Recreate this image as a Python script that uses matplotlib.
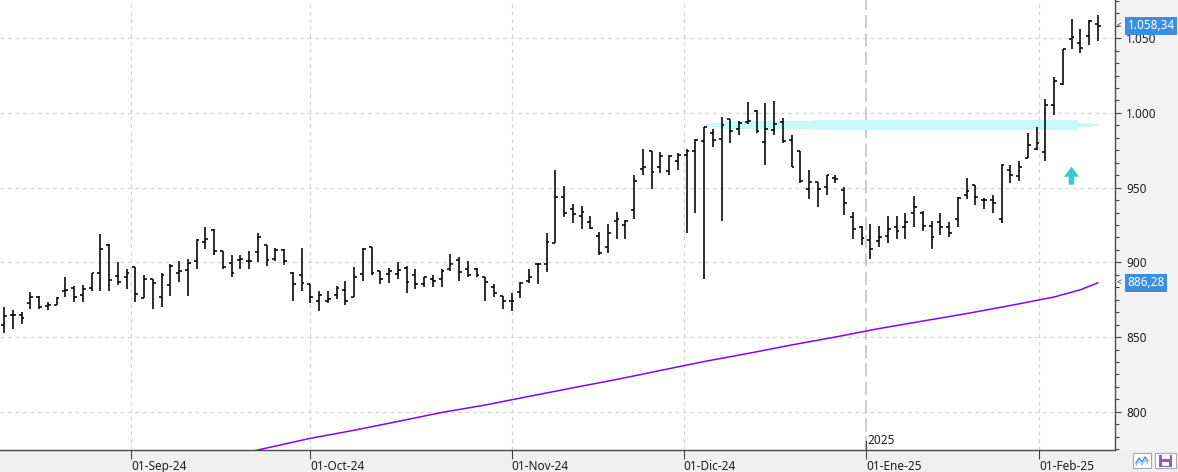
import numpy as np
import pandas as pd
import matplotlib
matplotlib.use("Agg")
import matplotlib.pyplot as plt
import matplotlib.transforms as mtrans
from matplotlib.ticker import FixedLocator, MultipleLocator, FuncFormatter
from matplotlib.patches import Rectangle, Polygon
from matplotlib.lines import Line2D

plt.rcParams['font.family'] = ['Noto Sans', 'DejaVu Sans']

# ---------------- data ----------------
holidays = ["2024-09-02", "2024-11-28", "2024-12-25", "2025-01-01", "2025-01-09", "2025-01-20"]
dates = pd.bdate_range("2024-08-12", "2025-02-11")
dates = dates[~dates.isin(pd.to_datetime(holidays))]

opens = [858.1, 864.5, 864.5, 872.6, 877.0, 870.8, 871.5, 881.0, 882.9, 878.4,
         882.6, 892.7, 911.8, 890.9, 890.0, 896.7, 875.9, 888.6, 876.6, 884.6,
         893.1, 894.9, 901.1, 913.6, 921.7, 907.4, 899.3, 901.6, 901.1, 906.9,
         911.4, 902.5, 908.3, 892.7, 891.5, 885.5, 874.4, 874.4, 877.9, 881.5,
         877.0, 892.2, 910.5, 894.0, 892.2, 892.2, 896.2, 891.8, 885.5, 888.6,
         888.6, 895.8, 901.6, 895.3, 895.8, 890.0, 883.3, 877.5, 873.9, 880.2,
         887.7, 898.9, 898.9, 913.2, 943.5, 935.5, 931.0, 927.0, 917.7, 910.1,
         927.9, 924.8, 935.0, 962.3, 974.3, 963.6, 960.9, 967.6, 971.6, 974.3,
         981.0, 986.4, 982.3, 996.2, 989.0, 993.9, 1001.5, 980.6, 988.6, 993.9,
         981.9, 974.3, 948.9, 953.8, 950.2, 956.5, 948.4, 930.6, 923.9, 915.0,
         914.1, 917.6, 923.9, 923.4, 932.8, 933.3, 924.3, 927.0, 923.4, 929.2,
         944.9, 951.5, 941.7, 941.7, 929.2, 961.8, 957.8, 969.9, 975.6, 973.9,
         1005.1, 1019.4, 1049.3, 1046.6, 1051.5, 1059.5]
highs = [869.9, 868.1, 866.8, 880.2, 877.5, 873.5, 876.6, 890.4, 884.2, 884.6,
         893.1, 919.0, 912.3, 900.2, 895.8, 896.7, 891.3, 889.1, 892.7, 898.9,
         900.7, 902.0, 915.4, 923.9, 922.1, 907.4, 905.1, 905.1, 907.4, 919.4,
         911.4, 909.6, 908.7, 893.5, 909.6, 885.5, 881.0, 880.6, 884.2, 887.7,
         896.7, 909.6, 910.5, 894.0, 896.0, 900.2, 897.6, 895.3, 890.4, 891.8,
         895.3, 905.6, 903.4, 901.1, 896.2, 890.4, 885.5, 877.5, 879.7, 886.9,
         895.3, 899.3, 919.4, 961.8, 951.1, 939.1, 937.7, 931.0, 920.3, 925.7,
         933.7, 928.3, 958.7, 975.7, 974.3, 973.9, 972.1, 973.0, 975.7, 982.3,
         990.8, 989.5, 997.1, 996.2, 994.4, 1007.3, 1002.0, 1006.4, 1007.8, 996.6,
         985.0, 974.3, 961.8, 953.8, 958.7, 958.2, 950.2, 933.7, 924.3, 925.7,
         924.3, 931.0, 931.0, 933.3, 944.4, 934.6, 927.9, 932.8, 927.0, 943.5,
         956.5, 952.0, 943.1, 945.3, 965.8, 964.9, 967.6, 986.8, 990.8, 1009.6,
         1023.8, 1042.6, 1063.1, 1056.4, 1062.2, 1065.8]
lows = [852.5, 855.6, 858.5, 868.6, 868.6, 868.1, 871.2, 877.0, 873.5, 873.5,
        881.0, 881.0, 881.0, 884.6, 882.4, 873.7, 875.9, 868.6, 870.3, 877.5,
        887.1, 877.5, 895.8, 908.7, 904.7, 895.3, 890.4, 895.3, 895.3, 900.2,
        897.5, 900.7, 898.0, 873.9, 881.1, 872.6, 867.2, 872.6, 875.2, 871.7,
        877.0, 887.7, 891.3, 885.5, 886.0, 889.1, 879.3, 882.4, 883.3, 883.3,
        883.7, 894.4, 887.7, 890.0, 890.0, 873.9, 877.0, 868.6, 867.2, 876.1,
        886.4, 885.5, 893.6, 913.2, 930.6, 926.6, 922.6, 922.1, 905.2, 906.5,
        915.9, 915.9, 929.2, 958.2, 949.3, 960.0, 958.2, 961.8, 919.9, 933.3,
        889.1, 977.4, 927.9, 980.1, 985.5, 992.6, 986.8, 965.4, 985.5, 980.1,
        963.6, 952.9, 942.6, 936.8, 944.9, 953.3, 931.5, 915.4, 911.8, 902.0,
        910.5, 912.7, 915.9, 915.9, 923.4, 920.8, 909.2, 918.1, 917.2, 923.9,
        942.6, 938.6, 935.9, 933.3, 926.6, 953.3, 954.7, 969.9, 975.2, 968.1,
        998.9, 1018.9, 1043.0, 1040.4, 1045.3, 1048.4]
closes = [864.1, 864.5, 862.5, 876.6, 870.3, 871.7, 876.1, 881.5, 877.0, 881.9,
          892.9, 908.7, 888.2, 886.9, 892.7, 878.8, 889.1, 886.4, 891.5, 897.6,
          894.4, 899.8, 915.0, 915.6, 907.8, 896.7, 892.7, 902.5, 901.1, 917.2,
          901.6, 908.3, 901.1, 885.5, 886.0, 877.0, 877.9, 875.2, 882.8, 873.9,
          890.4, 908.7, 893.1, 889.1, 894.5, 894.9, 886.9, 885.5, 890.0, 887.7,
          894.0, 898.9, 893.6, 891.8, 891.3, 886.9, 879.3, 873.9, 874.4, 886.4,
          890.4, 898.9, 913.6, 943.5, 932.8, 932.4, 933.7, 923.0, 906.5, 919.4,
          929.2, 927.5, 954.7, 963.6, 960.5, 971.2, 971.2, 971.6, 974.8, 981.9,
          990.4, 981.9, 992.2, 987.7, 993.0, 994.4, 987.7, 989.0, 992.6, 981.4,
          964.0, 954.2, 953.8, 949.3, 958.2, 955.6, 939.5, 922.5, 916.3, 909.2,
          916.8, 922.1, 921.2, 927.0, 936.8, 924.3, 917.2, 923.4, 919.4, 943.1,
          947.5, 944.0, 941.7, 940.0, 965.4, 958.2, 964.0, 978.3, 979.7, 1005.1,
          1021.2, 1042.6, 1050.6, 1043.5, 1061.3, 1058.34]

ma_dates = ["2024-09-20", "2024-10-01", "2024-10-08", "2024-10-15", "2024-10-22",
            "2024-10-29", "2024-11-05", "2024-11-12", "2024-11-19", "2024-11-26",
            "2024-12-04", "2024-12-11", "2024-12-18", "2024-12-26", "2025-01-03",
            "2025-01-13", "2025-01-21", "2025-01-28", "2025-02-04", "2025-02-07",
            "2025-02-11"]
ma_values = [773.1, 782.2, 787.6, 793.5, 799.5, 804.5, 810.3, 816.0, 821.6, 827.6,
             833.6, 839.0, 844.7, 850.0, 855.7, 860.7, 865.7, 871.1, 876.8, 881.6,
             886.28]

month_starts = ["2024-09-01", "2024-10-01", "2024-11-01", "2024-12-01", "2025-01-01", "2025-02-01"]
month_labels = ["01-Sep-24", "01-Oct-24", "01-Nov-24", "01-Dic-24", "01-Ene-25", "01-Feb-25"]
year_start = "2025-01-01"
year_label = "2025"

zone_level = 992.0
zone_start, zone_end = "2024-12-04", "2025-02-11"
arrow_date = "2025-02-06"
arrow_tip, arrow_base = 964.0, 952.0

last_label = "1.058,34"
ma_label = "886,28"

# ---------------- helpers ----------------
idx = np.arange(len(dates))
pos_of = {d: i for i, d in enumerate(dates)}
ordn = np.array([d.toordinal() for d in dates], dtype=float)

def date_pos(s):
    return float(np.interp(pd.Timestamp(s).toordinal(), ordn, idx))

W, H = 1178, 472
fig = plt.figure(figsize=(W / 100, H / 100), dpi=100)
fig.patch.set_facecolor('white')
ax_l, ax_b, ax_w, ax_h = 0, 22 / H, 1115 / W, 450 / H
# panels
fig.patches.append(Rectangle((ax_w, ax_b), 1 - ax_w, 1 - ax_b, transform=fig.transFigure,
                             fc='#f3f3f4', ec='none', zorder=-5))
fig.patches.append(Rectangle((0, 0), 1, ax_b, transform=fig.transFigure,
                             fc='#f0f0f0', ec='none', zorder=-5))

ax = fig.add_axes([ax_l, ax_b, ax_w, ax_h])
ax.set_facecolor('white')
ax.set_xlim(-0.46, 126.97)
ax.set_ylim(774.4, 1075.6)

# grid
grid_c = '#d6d6d6'
for v in np.arange(800, 1075, 50):
    ax.axhline(v, color=grid_c, lw=0.9, ls=(0, (3, 3)), zorder=1)
tick_pos = [date_pos(s) for s in month_starts]
ypos = date_pos(year_start)
for p in tick_pos:
    if abs(p - ypos) > 1e-6:
        ax.axvline(p, color=grid_c, lw=0.9, ls=(0, (3, 3)), zorder=1)
ax.axvline(ypos, color='#c4c4c4', lw=1.2, ls=(0, (8, 3)), zorder=1)

# zone band (cyan highlight)
x0 = date_pos(zone_start)
x1 = date_pos(zone_end)
L = x1 - x0
seg_frac = [0.0, 0.02, 0.02, 0.05, 0.05, 0.28, 0.28, 0.95, 0.95, 0.985, 0.985, 1.0]
seg_px = [1.2, 1.2, 2.3, 2.3, 3.7, 3.7, 5.0, 5.0, 2.3, 2.3, 1.0, 1.0]
upp = (1075.6 - 774.4) / 450
bx = np.array([x0 + f * L for f in seg_frac])
bh = np.array(seg_px) * upp
ax.fill_between(bx, zone_level - bh, zone_level + bh, color='#c8f9f9', lw=0, zorder=2)

# moving average
ma_x = [pos_of[pd.Timestamp(d)] for d in ma_dates]
ax.plot(ma_x, ma_values, color='#8a00ff', lw=1.1, zorder=3)

# OHLC bars
lw = 1.15
ax.vlines(idx, lows, highs, color='black', lw=lw, zorder=4, capstyle='butt')
ax.hlines(opens, idx - 0.34, idx, color='black', lw=lw, zorder=4, capstyle='butt')
ax.hlines(closes, idx, idx + 0.34, color='black', lw=lw, zorder=4, capstyle='butt')

# arrow
ap = pos_of[pd.Timestamp(arrow_date)]
head_h = (arrow_tip - arrow_base) * 0.56
arrow = Polygon([(ap, arrow_tip), (ap + 0.86, arrow_tip - head_h), (ap + 0.32, arrow_tip - head_h),
                 (ap + 0.32, arrow_base), (ap - 0.32, arrow_base), (ap - 0.32, arrow_tip - head_h),
                 (ap - 0.86, arrow_tip - head_h)], closed=True, fc='#33cccc', ec='none', zorder=5)
ax.add_patch(arrow)

# spines
for s in ['left', 'top']:
    ax.spines[s].set_visible(False)
for s in ['right', 'bottom']:
    ax.spines[s].set_color('#4a4a4a')
    ax.spines[s].set_linewidth(1.0)

# y axis
ax.yaxis.tick_right()
ax.yaxis.set_major_locator(MultipleLocator(50))
ax.yaxis.set_minor_locator(MultipleLocator(50 / 6))
ax.yaxis.set_major_formatter(FuncFormatter(lambda v, p: f"{v:,.0f}".replace(',', '.')))
ax.tick_params(axis='y', which='major', direction='out', length=4.5, width=0.8, color='#444444',
               pad=3.5, labelsize=8.5, labelcolor='#1e1e1e')
ax.tick_params(axis='y', which='minor', direction='out', length=2.6, width=0.8, color='#444444')

# x axis
ax.xaxis.set_major_locator(FixedLocator(tick_pos))
ax.set_xticklabels(month_labels)
ax.tick_params(axis='x', which='major', direction='out', length=6.5, width=0.8, color='#444444',
               pad=1.0, labelsize=8.5, labelcolor='#1e1e1e')
for t in ax.get_xticklabels():
    t.set_ha('left')

# year marker
bx_t = mtrans.blended_transform_factory(ax.transData, ax.transAxes)
ax.plot([ypos, ypos], [0, 0.02], transform=bx_t, color='#444444', lw=0.9, zorder=6, clip_on=False)
ax.text(ypos + 0.15, 0.006, year_label, transform=bx_t,
        ha='left', va='bottom', fontsize=8.5, color='#1e1e1e', zorder=6)

# last-value labels
bt = mtrans.blended_transform_factory(ax.transAxes, ax.transData)
for val, lab in [(closes[-1], last_label), (ma_values[-1], ma_label)]:
    ax.text(1 + 12.5 / 1115, val, lab, transform=bt, ha='left', va='center', fontsize=8.5,
            color='white', bbox=dict(boxstyle='square,pad=0.22', fc='#3b8fe0', ec='none'),
            clip_on=False, zorder=7)
    ax.text(1 + 2 / 1115, val, '<', transform=bt, ha='left', va='center', fontsize=6,
            color='#333333', clip_on=False, zorder=7)

# bottom-right icons
def px_rect(x, y, w, h, **kw):
    fig.patches.append(Rectangle((x / W, 1 - (y + h) / H), w / W, h / H, transform=fig.transFigure, **kw))

px_rect(1133, 453, 18, 15, fc='white', ec='#a8a8a8', lw=0.8, zorder=3)
zx = np.array([1136, 1139, 1142, 1145, 1148])
zy = np.array([463, 458, 462, 457, 461])
fig.lines.append(Line2D(zx / W, 1 - zy / H, transform=fig.transFigure, color='#4a90d9', lw=1.0, zorder=4))
zy2 = zy + 3
fig.lines.append(Line2D(zx / W, 1 - zy2 / H, transform=fig.transFigure, color='#8cc0ee', lw=0.8, zorder=4))
px_rect(1155, 453, 21, 15, fc='white', ec='#a8a8a8', lw=0.8, zorder=3)
px_rect(1159, 454.5, 13, 12, fc='#8a5cc7', ec='none', zorder=4)
px_rect(1161.5, 455, 8, 4, fc='white', ec='none', zorder=5)
px_rect(1162, 461.5, 7, 4, fc='white', ec='none', zorder=5)

fig.savefig('out.png', dpi=100, facecolor='white')
